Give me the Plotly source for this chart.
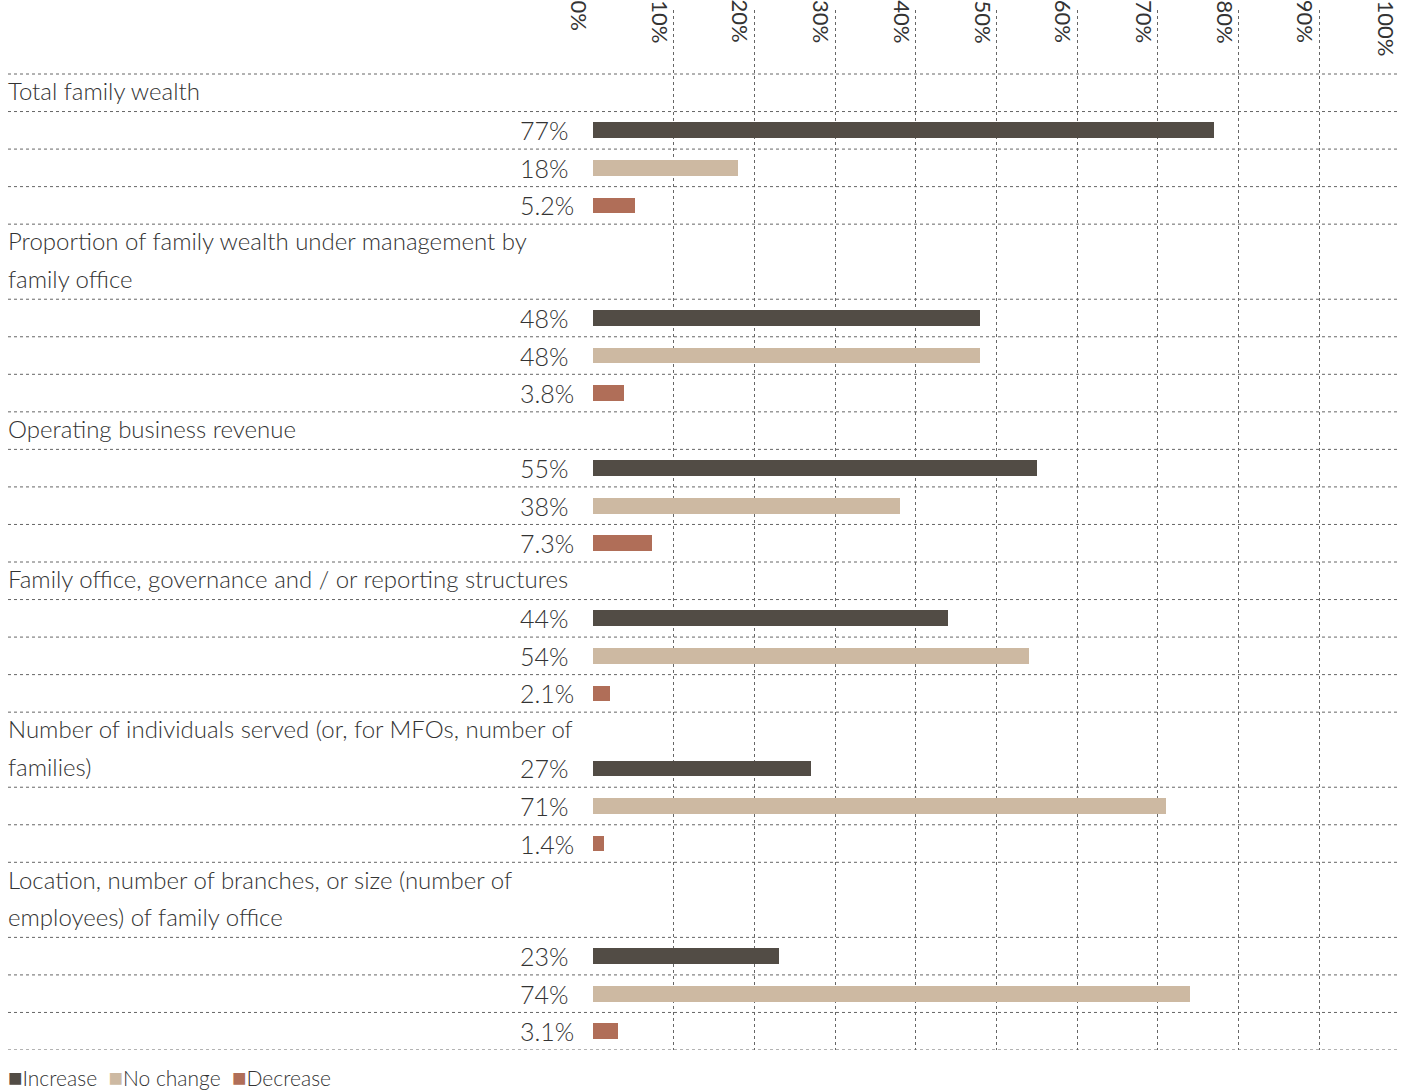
import plotly.graph_objects as go

categories = [
    "Total family wealth",
    "Proportion of family wealth under management by<br>family office",
    "Operating business revenue",
    "Family office, governance and / or reporting structures",
    "Number of individuals served (or, for MFOs, number of<br>families)",
    "Location, number of branches, or size (number of<br>employees) of family office",
]
increase = [77, 48, 55, 44, 27, 23]
no_change = [18, 48, 38, 54, 71, 74]
decrease = [5.2, 3.8, 7.3, 2.1, 1.4, 3.1]
series_names = ["Increase", "No change", "Decrease"]
colors = ["#524c45", "#cdb9a2", "#b06e58"]
tick_vals = list(range(0, 101, 10))

# rows where the first bar shares the last header line
merge_first = [False, False, False, False, True, False]

W, H = 1407, 1091
FONT = "Lato"
TXT = "#333333"

# build the row layout
row = 0
boundaries = [0]
header_lines = []
bar_rows = [[], [], []]
for i, cat in enumerate(categories):
    lines = cat.split("<br>")
    for j, ln in enumerate(lines):
        header_lines.append((ln, row + j + 0.5))
    if merge_first[i]:
        first = row + len(lines) - 1
    else:
        first = row + len(lines)
        boundaries.append(first)
    for k in range(3):
        bar_rows[k].append(first + k + 0.5)
        boundaries.append(first + k + 1)
    row = first + 3
n_rows = row

fig = go.Figure()
for k, vals in enumerate([increase, no_change, decrease]):
    fig.add_trace(go.Bar(
        x=vals, y=bar_rows[k], orientation="h", name=series_names[k],
        marker=dict(color=colors[k], line=dict(width=0)), width=0.42,
        showlegend=False, hoverinfo="x+name",
    ))

px0, px1 = 593, 1400
top_px, bot_px = 10, 1050
row_px = (bot_px - 74) / n_rows
extra = (74 - top_px) / row_px

fig.update_layout(
    width=W, height=H,
    margin=dict(l=0, r=0, t=0, b=0),
    plot_bgcolor="white", paper_bgcolor="white",
    font=dict(family=FONT, color=TXT),
    xaxis=dict(range=[0, 100], domain=[px0 / W, px1 / W], showgrid=True,
               tickvals=tick_vals, gridcolor="#666666", griddash="dot", gridwidth=1,
               zeroline=False, showticklabels=False, showline=False, fixedrange=True),
    yaxis=dict(range=[n_rows, -extra], domain=[1 - bot_px / H, 1 - top_px / H],
               showgrid=False, zeroline=False, showticklabels=False, showline=False),
    bargap=0,
)

# horizontal dotted row separators
for b in boundaries:
    fig.add_shape(type="line", xref="paper", yref="y", x0=8 / W, x1=px1 / W, y0=b, y1=b,
                  line=dict(color="#666666", width=1, dash="dot"), layer="below")

# rotated tick labels at the top
for t in tick_vals:
    fig.add_annotation(x=t, xref="x", y=1, yref="paper", yshift=2, text=f"{t}%",
                       textangle=90, xanchor="right", yanchor="top", xshift=2,
                       showarrow=False, font=dict(size=22, color=TXT, family=FONT))

# category headers
for ln, yc in header_lines:
    fig.add_annotation(x=6 / W, xref="paper", y=yc, yref="y", yshift=2, text=ln,
                       xanchor="left", yanchor="middle", showarrow=False,
                       font=dict(size=24, color=TXT, family=FONT, weight=300))

# value labels
for k, vals in enumerate([increase, no_change, decrease]):
    for v, yc in zip(vals, bar_rows[k]):
        fig.add_annotation(x=518 / W, xref="paper", y=yc, yref="y", text=f"{v:g}%",
                           xanchor="left", yanchor="middle", showarrow=False,
                           font=dict(size=25, color=TXT, family=FONT, weight=300))

# legend
leg = "  ".join(
    f'<span style="color:{c};font-size:24px">■</span>{n}' for n, c in zip(series_names, colors)
)
fig.add_annotation(x=6 / W, xref="paper", y=1 - 1076 / H, yref="paper", text=leg,
                   xanchor="left", yanchor="middle", showarrow=False,
                   font=dict(size=21, color=TXT, family=FONT, weight=300))

fig.write_html("out.html", config={"displayModeBar": False},
               post_script="document.body.style.margin='0';")
